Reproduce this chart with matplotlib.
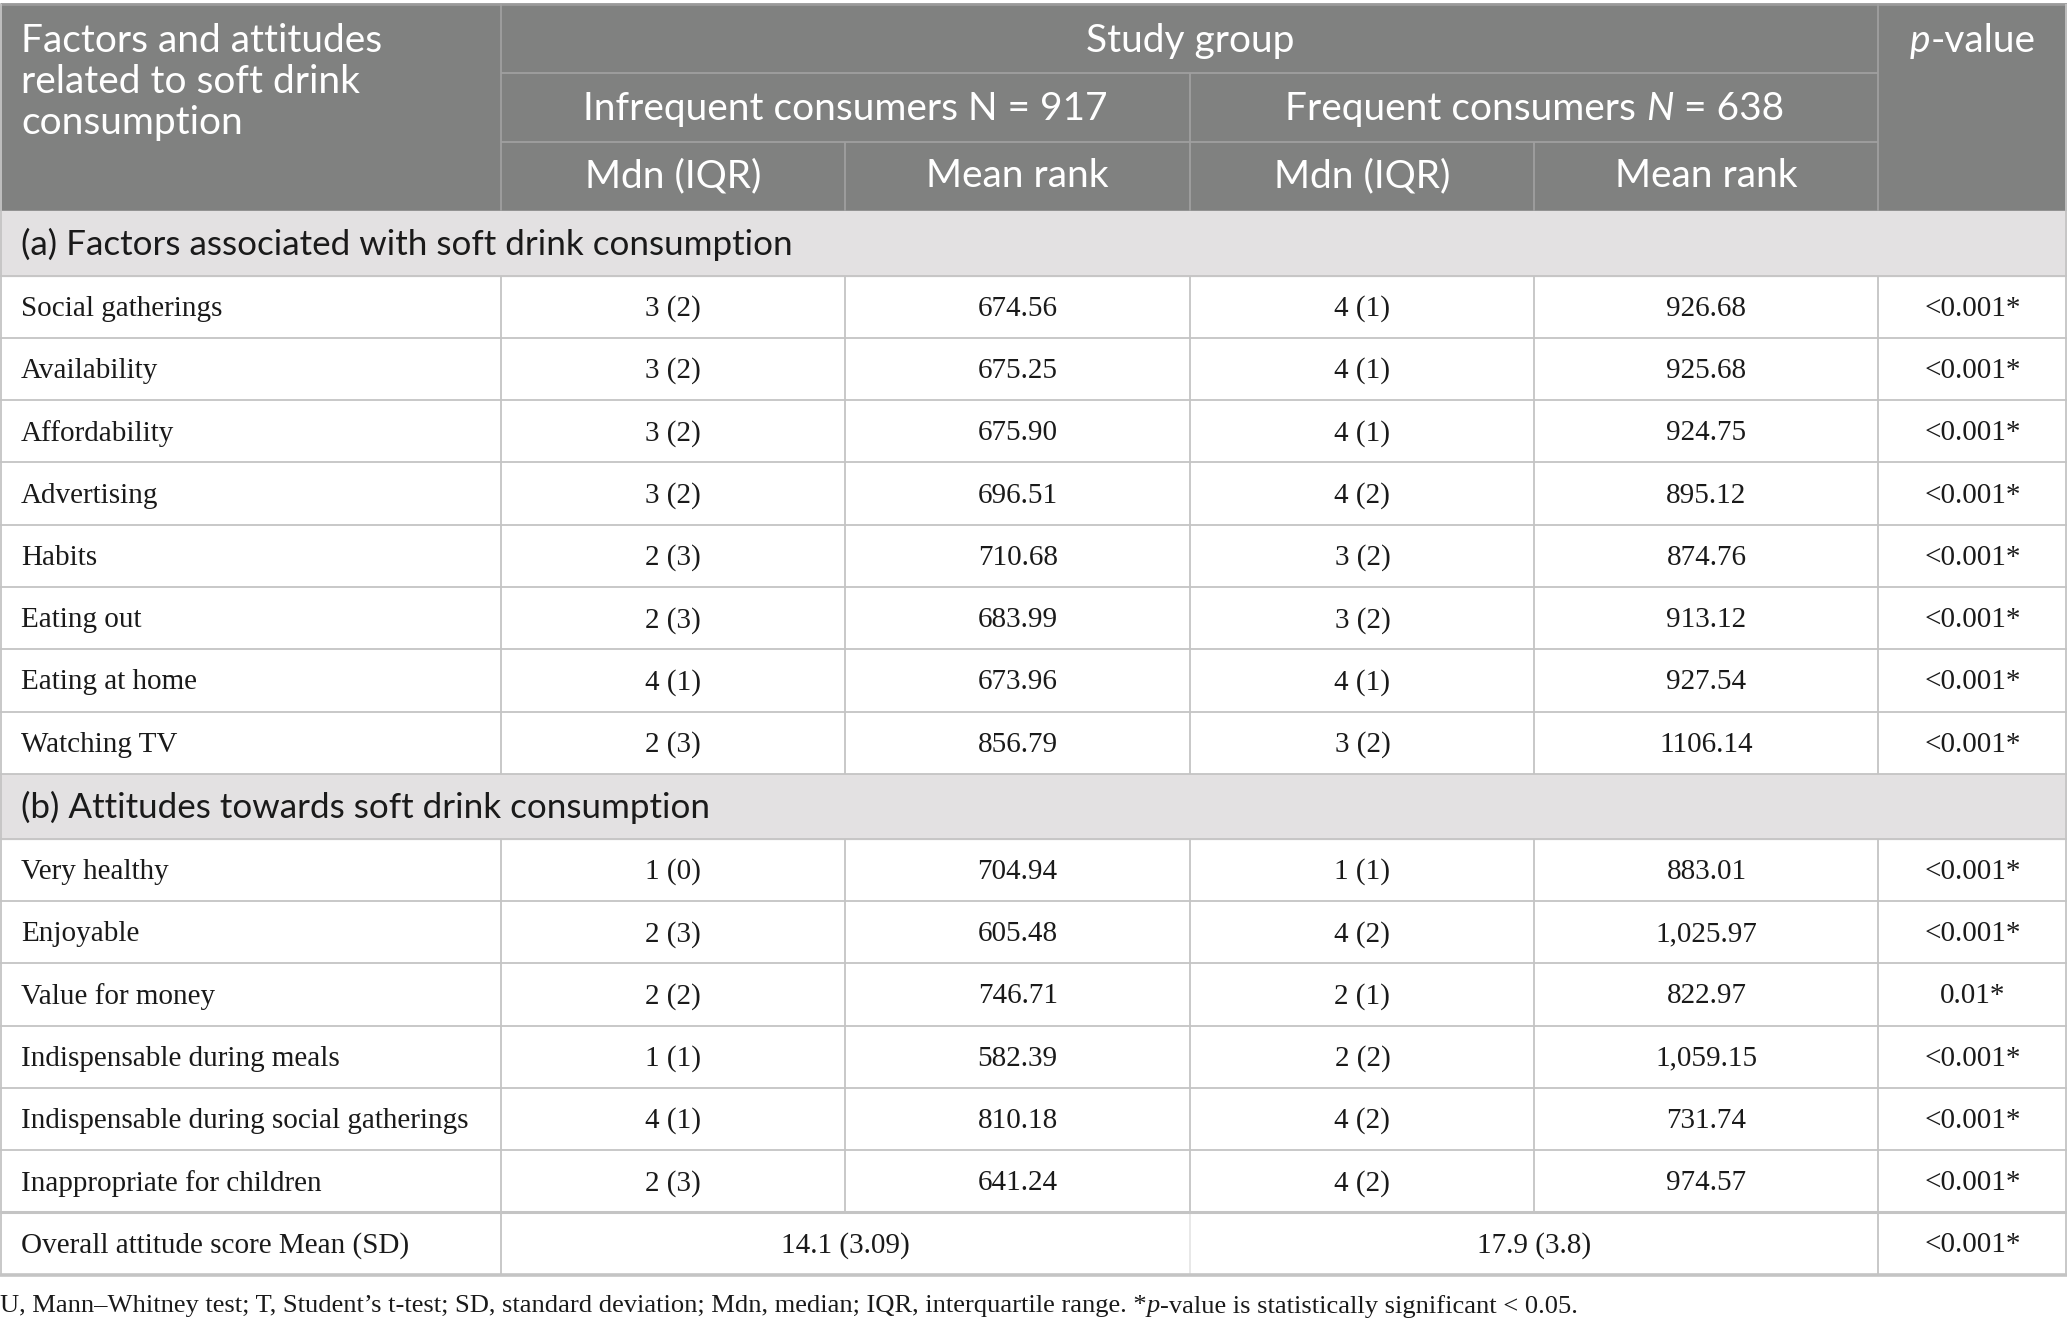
import matplotlib
matplotlib.use("Agg")
import matplotlib.pyplot as plt
from matplotlib.patches import Rectangle

# Table content
factors = ["Social gatherings", "Availability", "Affordability", "Advertising",
           "Habits", "Eating out", "Eating at home", "Watching TV"]
factors_inf_mdn = ["3 (2)", "3 (2)", "3 (2)", "3 (2)", "2 (3)", "2 (3)", "4 (1)", "2 (3)"]
factors_inf_rank = ["674.56", "675.25", "675.90", "696.51", "710.68", "683.99", "673.96", "856.79"]
factors_freq_mdn = ["4 (1)", "4 (1)", "4 (1)", "4 (2)", "3 (2)", "3 (2)", "4 (1)", "3 (2)"]
factors_freq_rank = ["926.68", "925.68", "924.75", "895.12", "874.76", "913.12", "927.54", "1106.14"]
factors_p = ["<0.001*"] * 8

attitudes = ["Very healthy", "Enjoyable", "Value for money", "Indispensable during meals",
             "Indispensable during social gatherings", "Inappropriate for children"]
att_inf_mdn = ["1 (0)", "2 (3)", "2 (2)", "1 (1)", "4 (1)", "2 (3)"]
att_inf_rank = ["704.94", "605.48", "746.71", "582.39", "810.18", "641.24"]
att_freq_mdn = ["1 (1)", "4 (2)", "2 (1)", "2 (2)", "4 (2)", "4 (2)"]
att_freq_rank = ["883.01", "1,025.97", "822.97", "1,059.15", "731.74", "974.57"]
att_p = ["<0.001*", "<0.001*", "0.01*", "<0.001*", "<0.001*", "<0.001*"]

overall_label = "Overall attitude score Mean (SD)"
overall_inf = "14.1 (3.09)"
overall_freq = "17.9 (3.8)"
overall_p = "<0.001*"

section_a = "(a) Factors associated with soft drink consumption"
section_b = "(b) Attitudes towards soft drink consumption"

# Layout (in units of a 1568 x 1000 canvas)
W, H = 1568, 1000
cols = [0, 380, 641, 903, 1164, 1425, 1568]
HEAD = "#808180"
HEAD_LINE = "#a0a0a0"
SEC = "#e3e1e2"
LINE = "#c4c4c4"
TXT = "#1a1a1a"
SANS = "Lato"
SERIF = "Liberation Serif"
PT = 1.3182 * 0.72  # canvas px -> points at dpi 100

fig = plt.figure(figsize=(20.67, 13.25), dpi=100)
ax = fig.add_axes([0, 0, 1, 1])
ax.set_xlim(0, W)
ax.set_ylim(H, 0)
ax.axis("off")
renderer = fig.canvas.get_renderer()


def hline(y, x0=0, x1=W, color=LINE, lw=1.3):
    ax.plot([x0, x1], [y, y], color=color, lw=lw, solid_capstyle="butt")


def vline(x, y0, y1, color=LINE, lw=1.3):
    ax.plot([x, x], [y0, y1], color=color, lw=lw, solid_capstyle="butt")


def pieces(x, y, parts, size, family, color, ha="center"):
    # draw text made of (string, italic) pieces
    objs = []
    for s, it in parts:
        t = ax.text(0, y, s, fontsize=size, family=family, color=color,
                    style="italic" if it else "normal", va="center", ha="left")
        objs.append(t)
    inv = ax.transData.inverted()
    widths = []
    for t in objs:
        bb = t.get_window_extent(renderer)
        p0 = inv.transform((bb.x0, bb.y0))
        p1 = inv.transform((bb.x1, bb.y0))
        widths.append(p1[0] - p0[0])
    total = sum(widths)
    start = x - total / 2 if ha == "center" else x
    for t, w in zip(objs, widths):
        t.set_x(start)
        start += w


# header block
top, hb = 3, 159
ax.add_patch(Rectangle((0, top), W, hb - top, color=HEAD, zorder=0))
hline(top, color="#9a9a9a", lw=2)
hline(55, cols[1], cols[5], color=HEAD_LINE)
hline(107, cols[1], cols[5], color=HEAD_LINE)
vline(cols[1], top, hb, color=HEAD_LINE)
vline(cols[5], top, hb, color=HEAD_LINE)
vline(cols[3], 55, hb, color=HEAD_LINE)
vline(cols[2], 107, hb, color=HEAD_LINE)
vline(cols[4], 107, hb, color=HEAD_LINE)

hs = 29.5 * PT
ax.text(16, 31, "Factors and attitudes", fontsize=hs, family=SANS, color="white", va="center")
ax.text(16, 62, "related to soft drink", fontsize=hs, family=SANS, color="white", va="center")
ax.text(16, 93, "consumption", fontsize=hs, family=SANS, color="white", va="center")
ax.text((cols[1] + cols[5]) / 2, 31, "Study group", fontsize=hs, family=SANS,
        color="white", va="center", ha="center")
pieces((cols[1] + cols[3]) / 2, 82, [("Infrequent consumers N = 917", False)], hs, SANS, "white")
pieces((cols[3] + cols[5]) / 2, 82, [("Frequent consumers ", False), ("N", True),
                                     (" = 638", False)], hs, SANS, "white")
for i, lab in enumerate(["Mdn (IQR)", "Mean rank", "Mdn (IQR)", "Mean rank"]):
    ax.text((cols[1 + i] + cols[2 + i]) / 2, 133, lab, fontsize=hs, family=SANS,
            color="white", va="center", ha="center")
pieces((cols[5] + cols[6]) / 2, 31, [("p", True), ("-value", False)], hs, SANS, "white")

bs = 22.1 * PT
ss = 26.6 * PT
rh = 47.0


def section(y0, y1, label):
    ax.add_patch(Rectangle((0, y0), W, y1 - y0, color=SEC, zorder=0))
    ax.text(16, (y0 + y1) / 2 + 1, label, fontsize=ss, family=SANS, color=TXT, va="center")
    hline(y1)


def rows(y0, labels, a, b, c, d, p):
    for k in range(len(labels)):
        ya = y0 + k * rh
        yc = ya + rh / 2 + 1.5
        ax.text(16, yc, labels[k], fontsize=bs, family=SERIF, color=TXT, va="center")
        for j, v in enumerate([a[k], b[k], c[k], d[k], p[k]]):
            ax.text((cols[1 + j] + cols[2 + j]) / 2, yc, v, fontsize=bs, family=SERIF,
                    color=TXT, va="center", ha="center")
        hline(ya + rh)
        for x in cols[1:6]:
            vline(x, ya, ya + rh)
    return y0 + len(labels) * rh


section(hb, 208, section_a)
y = rows(208, factors, factors_inf_mdn, factors_inf_rank, factors_freq_mdn,
         factors_freq_rank, factors_p)
section(y, y + 49, section_b)
y = rows(y + 49, attitudes, att_inf_mdn, att_inf_rank, att_freq_mdn, att_freq_rank, att_p)

# overall row
yc = y + rh / 2 + 1.5
ax.text(16, yc, overall_label, fontsize=bs, family=SERIF, color=TXT, va="center")
ax.text(cols[2], yc, overall_inf, fontsize=bs, family=SERIF, color=TXT, va="center", ha="center")
ax.text(cols[4], yc, overall_freq, fontsize=bs, family=SERIF, color=TXT, va="center", ha="center")
ax.text((cols[5] + cols[6]) / 2, yc, overall_p, fontsize=bs, family=SERIF, color=TXT,
        va="center", ha="center")
for x in [cols[1], cols[5]]:
    vline(x, y, y + rh)
vline(cols[3], y, y + rh, color="#e6e6e6")
hline(y, lw=2.2)
hline(y + rh, lw=2.6)
vline(0.7, top, y + rh)
vline(W - 0.7, top, y + rh)

# footnote
pieces(0, 986, [("U, Mann\u2013Whitney test; T, Student\u2019s t-test; SD, standard deviation; "
                 "Mdn, median; IQR, interquartile range. *", False), ("p", True),
                ("-value is statistically significant < 0.05.", False)],
       20.1 * PT, SERIF, TXT, ha="left")

fig.savefig("out.png", dpi=100)
